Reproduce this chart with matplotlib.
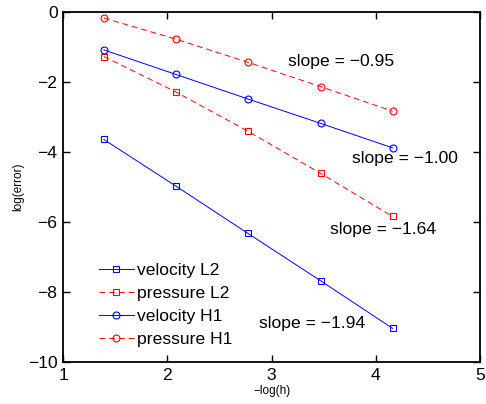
import matplotlib
matplotlib.use("Agg")
import matplotlib.pyplot as plt

plt.rcParams['font.family'] = ['Liberation Sans', 'DejaVu Sans']
plt.rcParams['axes.unicode_minus'] = True

# -log(h) for h = 1/4 ... 1/64
neg_log_h = [1.39, 2.08, 2.77, 3.47, 4.16]

vel_L2 = [-3.64, -4.97, -6.32, -7.68, -9.04]
pre_L2 = [-1.27, -2.28, -3.40, -4.61, -5.84]
vel_H1 = [-1.08, -1.78, -2.48, -3.18, -3.88]
pre_H1 = [-0.17, -0.77, -1.43, -2.13, -2.83]

slope_labels = ['slope = \u22120.95', 'slope = \u22121.00', 'slope = \u22121.64', 'slope = \u22121.94']
slope_pos = [(3.16, -1.40), (3.77, -4.18), (3.56, -6.22), (2.88, -8.91)]

fig = plt.figure(figsize=(4.86, 4.04), dpi=100)
ax = fig.add_axes([0.130, 0.104, 0.858, 0.866])

mk = dict(markersize=5, fillstyle='none', markeredgewidth=0.8, linewidth=0.7)
ax.plot(neg_log_h, vel_L2, 'b-s', label='velocity L2', **mk)
ax.plot(neg_log_h, pre_L2, 'r--s', label='pressure L2', dashes=(6, 4), **mk)
ax.plot(neg_log_h, vel_H1, 'b-o', label='velocity H1', **mk)
ax.plot(neg_log_h, pre_H1, 'r--o', label='pressure H1', dashes=(6, 4), **mk)

for txt, (x, y) in zip(slope_labels, slope_pos):
    ax.text(x, y, txt, fontsize=12.6, ha='left', va='center')

ax.set_xlim(1, 5)
ax.set_ylim(-10, 0)
ax.set_xticks([1, 2, 3, 4, 5])
ax.set_yticks([-10, -8, -6, -4, -2, 0])
ax.tick_params(direction='in', top=True, right=True, length=5, width=1, labelsize=12.6, pad=4)
for s in ax.spines.values():
    s.set_linewidth(1.3)

ax.set_xlabel('\u2212log(h)', fontsize=8.5, labelpad=2)
ax.set_ylabel('log(error)', fontsize=8.5, labelpad=3)

ax.legend(loc='lower left', bbox_to_anchor=(0.05, 0.0), frameon=False, fontsize=12.6,
          numpoints=1, handlelength=2.0, handletextpad=0.2, labelspacing=0.45,
          borderaxespad=0.45)

fig.savefig('out.png', dpi=100)
